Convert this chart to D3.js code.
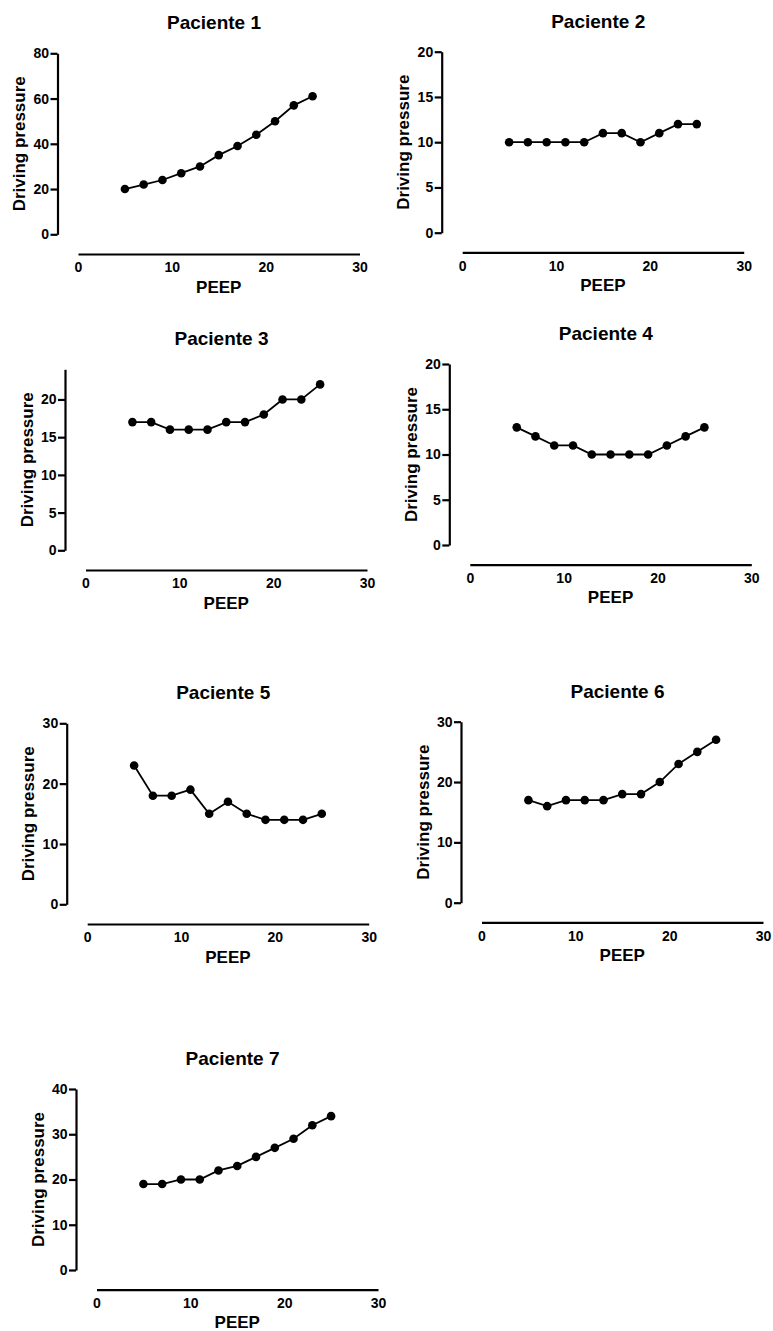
<!DOCTYPE html>
<html>
<head>
<meta charset="utf-8">
<script src="https://cdn.jsdelivr.net/npm/d3@7"></script>
<style>
  body { margin: 0; background: #fff; }
  svg { display: block; font-family: "Liberation Sans", Arial, sans-serif; }
</style>
</head>
<body>
<svg id="chart" width="773" height="1331"></svg>
<script>
// data
var peep = [5, 7, 9, 11, 13, 15, 17, 19, 21, 23, 25];
var paciente1 = [20, 22, 24, 27, 30, 35, 39, 44, 50, 57, 61];
var paciente2 = [10, 10, 10, 10, 10, 11, 11, 10, 11, 12, 12];
var paciente3 = [17, 17, 16, 16, 16, 17, 17, 18, 20, 20, 22];
var paciente4 = [13, 12, 11, 11, 10, 10, 10, 10, 11, 12, 13];
var paciente5 = [23, 18, 18, 19, 15, 17, 15, 14, 14, 14, 15];
var paciente6 = [17, 16, 17, 17, 17, 18, 18, 20, 23, 25, 27];
var paciente7 = [19, 19, 20, 20, 22, 23, 25, 27, 29, 32, 34];

var titles = ["Paciente 1", "Paciente 2", "Paciente 3", "Paciente 4", "Paciente 5", "Paciente 6", "Paciente 7"];
var series = [paciente1, paciente2, paciente3, paciente4, paciente5, paciente6, paciente7];
var yMax = [80, 20, 24, 20, 30, 30, 40];
var yTicks = [
  [0, 20, 40, 60, 80],
  [0, 5, 10, 15, 20],
  [0, 5, 10, 15, 20],
  [0, 5, 10, 15, 20],
  [0, 10, 20, 30],
  [0, 10, 20, 30],
  [0, 10, 20, 30, 40]
];
var xTicks = [0, 10, 20, 30];

// where each panel's y axis sits (left, top)
var origins = [[57.5, 53.3], [441.7, 51.7], [65, 369.3], [449.3, 364], [66.7, 723.3], [461, 721.7], [76, 1089]];
var yH = 181, gap = 20.5, xW = 281.5, gapY = 19.7;

var svg = d3.select("#chart");

series.forEach(function(vals, i) {
  var left = origins[i][0], top = origins[i][1];
  var g = svg.append("g").attr("transform", "translate(" + left + "," + top + ")");

  var y = d3.scaleLinear().domain([0, yMax[i]]).range([yH, 0]);
  var x = d3.scaleLinear().domain([0, 30]).range([gap, gap + xW]);
  var xAxisY = yH + gapY;

  // y axis
  var ya = g.append("g")
    .call(d3.axisLeft(y).tickValues(yTicks[i]).tickSize(7).tickSizeOuter(0).tickPadding(1.5));
  // x axis (no ticks)
  var xa = g.append("g")
    .attr("transform", "translate(0," + xAxisY + ")")
    .call(d3.axisBottom(x).tickValues(xTicks).tickSize(0).tickSizeOuter(0).tickPadding(8.5));

  [ya, xa].forEach(function(a) {
    a.select(".domain").attr("stroke", "#000").attr("stroke-width", 2.2);
    a.selectAll(".tick line").attr("stroke", "#000").attr("stroke-width", 2.2);
    a.selectAll(".tick text")
      .attr("fill", "#000")
      .style("font-size", "14px")
      .style("font-weight", "bold")
      .style("font-family", "'Liberation Sans', Arial, sans-serif");
  });

  var pts = peep.map(function(p, k) { return [p, vals[k]]; });

  g.append("path")
    .datum(pts)
    .attr("fill", "none")
    .attr("stroke", "#000")
    .attr("stroke-width", 1.8)
    .attr("d", d3.line().x(function(d) { return x(d[0]); }).y(function(d) { return y(d[1]); }));

  g.selectAll("circle.pt")
    .data(pts)
    .enter()
    .append("circle")
      .attr("class", "pt")
      .attr("cx", function(d) { return x(d[0]); })
      .attr("cy", function(d) { return y(d[1]); })
      .attr("r", 4.3)
      .attr("fill", "#000");

  // title
  g.append("text")
    .attr("x", gap + 136)
    .attr("y", -24)
    .attr("text-anchor", "middle")
    .style("font-size", "19px")
    .style("font-weight", "bold")
    .text(titles[i]);

  // x label
  g.append("text")
    .attr("x", gap + xW / 2)
    .attr("y", xAxisY + 38.7)
    .attr("text-anchor", "middle")
    .style("font-size", "17px")
    .style("font-weight", "bold")
    .text("PEEP");

  // y label
  g.append("text")
    .attr("transform", "translate(-32.5," + (yH / 2) + ")rotate(-90)")
    .attr("text-anchor", "middle")
    .style("font-size", "17px")
    .style("font-weight", "bold")
    .text("Driving pressure");
});
</script>
</body>
</html>
